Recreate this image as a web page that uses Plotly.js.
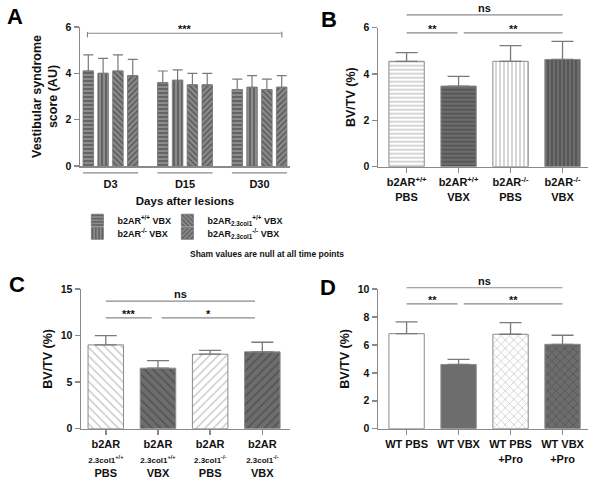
<!DOCTYPE html>
<html>
<head>
<meta charset="utf-8">
<script src="https://cdn.plot.ly/plotly-3.0.1.min.js"></script>
<style>html,body{margin:0;padding:0;background:#fff;}</style>
</head>
<body>
<div id="plot" style="width:600px;height:484px"></div>
<script>
// panel A - vestibular score by day
var dayGroups = ['D3', 'D15', 'D30'];
var lesionNames = ['b2AR<sup>+/+</sup> VBX', 'b2AR<sup>-/-</sup> VBX',
                   'b2AR<sub>2.3col1</sub><sup>+/+</sup> VBX', 'b2AR<sub>2.3col1</sub><sup>-/-</sup> VBX'];
var lesionShapes = ['-', '|', '\\', '/'];
var scoreMeans = [[4.1, 3.6, 3.3], [4.0, 3.7, 3.4], [4.1, 3.5, 3.3], [3.9, 3.5, 3.4]];
var scoreSEM = [[0.7, 0.5, 0.45], [0.65, 0.45, 0.5], [0.7, 0.5, 0.45], [0.7, 0.5, 0.5]];

// panel B
var bTicks = ['b2AR<sup>+/+</sup><br>PBS', 'b2AR<sup>+/+</sup><br>VBX', 'b2AR<sup>-/-</sup><br>PBS', 'b2AR<sup>-/-</sup><br>VBX'];
var bMeans = [4.55, 3.48, 4.55, 4.63];
var bSEM = [0.37, 0.42, 0.68, 0.78];

// panel C
var cTicks = ['b2AR<br><span style="font-size:8px">2.3col1<sup>+/+</sup></span><br>PBS',
              'b2AR<br><span style="font-size:8px">2.3col1<sup>+/+</sup></span><br>VBX',
              'b2AR<br><span style="font-size:8px">2.3col1<sup>-/-</sup></span><br>PBS',
              'b2AR<br><span style="font-size:8px">2.3col1<sup>-/-</sup></span><br>VBX'];
var cMeans = [9.0, 6.5, 8.0, 8.25];
var cSEM = [1.0, 0.8, 0.4, 1.03];

// panel D
var dTicks = ['WT PBS', 'WT VBX', 'WT PBS<br>+Pro', 'WT VBX<br>+Pro'];
var dMeans = [6.8, 4.6, 6.76, 6.04];
var dSEM = [0.84, 0.36, 0.84, 0.65];

// significance brackets
var aSig = [{x0: -0.31, x1: 2.3, y: 5.73, label: '***'}];
var bSig = [{x0: 0, x1: 3, y: 6.55, label: 'ns'}, {x0: 0, x1: 0.98, y: 5.78, label: '**'}, {x0: 1.1, x1: 3, y: 5.78, label: '**'}];
var cSig = [{x0: 0, x1: 2.86, y: 13.7, label: 'ns'}, {x0: 0, x1: 0.88, y: 11.9, label: '***'}, {x0: 1.07, x1: 2.86, y: 11.9, label: '*'}];
var dSig = [{x0: 0, x1: 3, y: 10.09, label: 'ns'}, {x0: 0, x1: 0.98, y: 8.93, label: '**'}, {x0: 1.1, x1: 3, y: 8.93, label: '**'}];

var white = '#ffffff', lightLine = '#c4c4c4', dark = '#6d6d6d', darkLine = '#4e4e4e';
var axisGray = '#8a8a8a';
var idx = [0, 1, 2, 3];

var data = [];
var legendSpots = [[0.129, 0.545], [0.129, 0.518], [0.279, 0.545], [0.279, 0.518]];
lesionNames.forEach(function(name, i) {
  data.push({
    type: 'bar', x: dayGroups, y: scoreMeans[i], name: name,
    xaxis: 'x', yaxis: 'y', legend: i === 0 ? 'legend' : 'legend' + (i + 1),
    marker: {color: '#8c8c8c', line: {color: '#707070', width: 0.8},
             pattern: {shape: lesionShapes[i], bgcolor: '#8c8c8c', fgcolor: '#5a5a5a', size: 4, solidity: 0.4}},
    error_y: {type: 'data', symmetric: false, array: scoreSEM[i], arrayminus: [0, 0, 0],
              color: '#7a7a7a', thickness: 1.2, width: 5}
  });
});

function panel(ax, means, sem, bg, fg, shapes, size, solidity) {
  means.forEach(function(m, i) {
    data.push({
      type: 'bar', x: [idx[i]], y: [m], width: 0.68, offsetgroup: 'p' + ax, showlegend: false,
      xaxis: 'x' + ax, yaxis: 'y' + ax,
      marker: {color: bg[i], line: {color: '#8a8a8a', width: 1},
               pattern: {shape: shapes[i], bgcolor: bg[i], fgcolor: fg[i], size: size, solidity: solidity}},
      error_y: {type: 'data', symmetric: false, array: [sem[i]], arrayminus: [0],
                color: '#7a7a7a', thickness: 1.3, width: 11}
    });
  });
}
panel('2', bMeans, bSEM, [white, dark, white, dark], [lightLine, darkLine, lightLine, darkLine], ['-', '-', '|', '|'], 4, 0.35);
panel('3', cMeans, cSEM, [white, dark, white, dark], [lightLine, darkLine, lightLine, darkLine], ['\\', '\\', '/', '/'], 6, 0.22);
panel('4', dMeans, dSEM, [white, dark, white, dark], [lightLine, darkLine, lightLine, darkLine], ['', '', 'x', 'x'], 6, 0.22);

var shapes = [];
var annotations = [];

function brackets(ax, top, list, endTicks) {
  var xr = 'x' + ax, yr = 'y' + ax + ' domain';
  list.forEach(function(s) {
    var yy = s.y / top;
    shapes.push({type: 'line', xref: xr, yref: yr, x0: s.x0, x1: s.x1, y0: yy, y1: yy,
                 line: {color: axisGray, width: 1.2}});
    if (endTicks) {
      [s.x0, s.x1].forEach(function(xe) {
        shapes.push({type: 'line', xref: xr, yref: yr, x0: xe, x1: xe, y0: yy + 0.01, y1: yy - 0.03,
                     line: {color: axisGray, width: 1.2}});
      });
    }
    annotations.push({xref: xr, yref: yr, x: (s.x0 + s.x1) / 2, y: yy, text: s.label, showarrow: false,
                      yanchor: 'bottom', yshift: s.label === 'ns' ? -1 : -4, font: {size: 11, color: '#111'}});
  });
}
brackets('', 6, aSig, true);
brackets('2', 6, bSig, false);
brackets('3', 15, cSig, false);
brackets('4', 10, dSig, false);

// group underlines under panel A axis
dayGroups.forEach(function(g, i) {
  shapes.push({type: 'line', xref: 'x', yref: 'y domain', x0: i - 0.37, x1: i + 0.37, y0: -0.05, y1: -0.05,
               line: {color: axisGray, width: 1.2}});
});

[['A', 15, 16], ['B', 329, 20], ['C', 17, 284], ['D', 328, 287]].forEach(function(p) {
  annotations.push({xref: 'paper', yref: 'paper', x: p[1] / 600, y: 1 - p[2] / 484, text: p[0], showarrow: false,
                    xanchor: 'center', yanchor: 'middle', font: {size: 22, color: '#000'}});
});
annotations.push({xref: 'paper', yref: 'paper', x: 188 / 600, y: 1 - 254 / 484, text: 'Sham values are null at all time points',
                  showarrow: false, font: {size: 8.5, color: '#111'}});

function yAx(anchor, domain, top, step, title) {
  return {anchor: anchor, domain: domain, range: [0, top], dtick: step, showline: true, linecolor: axisGray, linewidth: 1.5,
          ticks: 'outside', ticklen: 5, tickcolor: axisGray, tickwidth: 1.5, showgrid: false, zeroline: false,
          tickfont: {size: 10.5, color: '#111'}, fixedrange: true,
          title: {text: title, font: {size: 12.5, color: '#111'}, standoff: 5}};
}
function xAx(anchor, domain, range, ticks) {
  return {anchor: anchor, domain: domain, range: range, tickvals: idx, ticktext: ticks, showline: true, linecolor: axisGray,
          linewidth: 1.5, ticks: 'outside', ticklen: 5, tickcolor: axisGray, tickwidth: 1.5, showgrid: false,
          zeroline: false, tickfont: {size: 11, color: '#111'}, fixedrange: true};
}

function legendAt(p) {
  return {x: p[0], y: p[1], xanchor: 'left', yanchor: 'middle', bgcolor: 'rgba(0,0,0,0)',
          font: {size: 9, color: '#111'}, itemwidth: 30};
}

var layout = {
  width: 600, height: 484,
  margin: {l: 0, r: 0, t: 0, b: 0},
  paper_bgcolor: '#fff', plot_bgcolor: 'rgba(0,0,0,0)',
  font: {family: 'Liberation Sans, Arial, sans-serif', weight: 'bold', color: '#111'},
  barmode: 'group', bargap: 0.204, bargroupgap: 0.29,
  showlegend: true,
  legend: legendAt(legendSpots[0]),
  legend2: legendAt(legendSpots[1]),
  legend3: legendAt(legendSpots[2]),
  legend4: legendAt(legendSpots[3]),
  xaxis: {anchor: 'y', domain: [80 / 600, 290 / 600], range: [-0.41, 2.41], showline: true, linecolor: axisGray, linewidth: 1.5,
          ticks: '', ticklabelstandoff: 7, showgrid: false, zeroline: false, fixedrange: true,
          tickfont: {size: 11, color: '#111'},
          title: {text: 'Days after lesions', font: {size: 11.5, color: '#111'}, standoff: 8}},
  yaxis: yAx('x', [1 - 166 / 484, 1 - 27 / 484], 6, 2, 'Vestibular syndrome<br>score (AU)'),
  xaxis2: xAx('y2', [378 / 600, 588 / 600], [-0.55, 3.49], bTicks),
  yaxis2: yAx('x2', [1 - 166.7 / 484, 1 - 27.7 / 484], 6, 2, 'BV/TV (%)'),
  xaxis3: xAx('y3', [81 / 600, 290 / 600], [-0.475, 3.53], cTicks),
  yaxis3: yAx('x3', [1 - 428.7 / 484, 1 - 289 / 484], 15, 5, 'BV/TV (%)'),
  xaxis4: xAx('y4', [378 / 600, 588 / 600], [-0.55, 3.49], dTicks),
  yaxis4: yAx('x4', [1 - 428.7 / 484, 1 - 289 / 484], 10, 2, 'BV/TV (%)'),
  shapes: shapes,
  annotations: annotations
};

Plotly.newPlot('plot', data, layout, {displayModeBar: false, staticPlot: true});
</script>
</body>
</html>
